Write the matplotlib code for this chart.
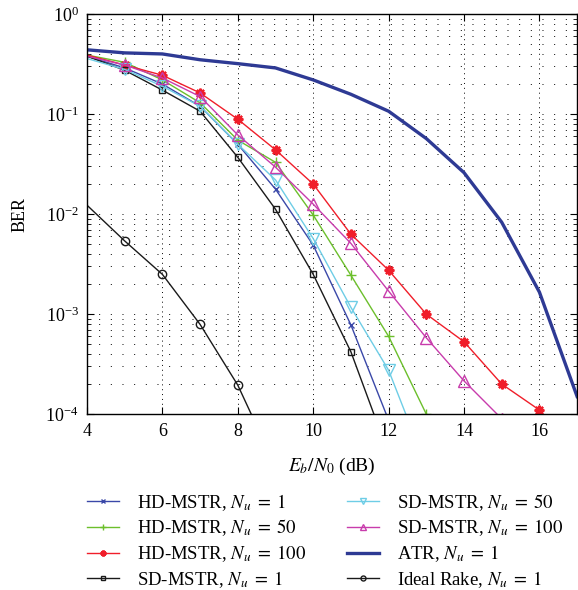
import numpy as np
import matplotlib
matplotlib.use("Agg")
import matplotlib.pyplot as plt
from matplotlib.ticker import LogLocator, NullFormatter

plt.rcParams["font.family"] = ["Liberation Serif", "DejaVu Serif"]
plt.rcParams["mathtext.fontset"] = "stix"

snr = [4, 5, 6, 7, 8, 9, 10, 11, 12, 13, 14, 15, 16, 17]

hd_1 = [0.38, 0.29, 0.20, 0.12, 0.05, 0.0178, 0.0049, 7.8e-4, 8.7e-5]
hd_50 = [0.39, 0.33, 0.22, 0.13, 0.055, 0.033, 0.0098, 0.00245, 6e-4, 1.0e-4]
hd_100 = [0.39, 0.31, 0.245, 0.163, 0.089, 0.044, 0.020, 0.0063, 0.00275,
          1.0e-3, 5.3e-4, 2.0e-4, 1.1e-4]
sd_1 = [0.38, 0.275, 0.174, 0.107, 0.037, 0.0112, 0.0025, 4.2e-4, 4e-5]
sd_50 = [0.36, 0.28, 0.19, 0.12, 0.05, 0.022, 0.0057, 0.00117, 2.75e-4, 3e-5]
sd_100 = [0.38, 0.31, 0.23, 0.15, 0.062, 0.0295, 0.0126, 0.0051, 0.0017,
          5.8e-4, 2.15e-4, 9e-5]
atr_1 = [0.44, 0.41, 0.40, 0.35, 0.32, 0.29, 0.22, 0.158, 0.107, 0.057,
         0.026, 0.0083, 0.00166, 1.5e-4]
rake_snr = [3, 4, 5, 6, 7, 8, 9]
rake_1 = [0.026, 0.0123, 0.0054, 0.0025, 7.9e-4, 1.95e-4, 3e-5]

fig = plt.figure(figsize=(5.78, 5.90), dpi=100)
ax = fig.add_axes([0.1505, 0.298, 0.848, 0.678])

mk = dict(markevery=slice(1, None), lw=1.0)
h1, = ax.semilogy(snr[:len(hd_1)], hd_1, color="#3a48a8", marker="x", ms=5,
                  label=r"HD-MSTR, $N_u\;=\;1$", **mk)
h2, = ax.semilogy(snr[:len(hd_50)], hd_50, color="#6cbf2c", marker="+", ms=7,
                  label=r"HD-MSTR, $N_u\;=\;50$", **mk)
h3, = ax.semilogy(snr[:len(hd_100)], hd_100, color="#f01e2a", marker=(8, 2, 0),
                  ms=7, mew=1.6, label=r"HD-MSTR, $N_u\;=\;100$", **mk)
h4, = ax.semilogy(snr[:len(sd_1)], sd_1, color="#1a1a1a", marker="s", ms=5,
                  mfc="none", label=r"SD-MSTR, $N_u\;=\;1$", **mk)
h5, = ax.semilogy(snr[:len(sd_50)], sd_50, color="#6ecde6", marker="v", ms=8,
                  mfc="none", label=r"SD-MSTR, $N_u\;=\;50$", **mk)
h6, = ax.semilogy(snr[:len(sd_100)], sd_100, color="#c83cac", marker="^", ms=8,
                  mfc="none", label=r"SD-MSTR, $N_u\;=\;100$", **mk)
h7, = ax.semilogy(snr, atr_1, color="#2e3a94", lw=2.4,
                  label=r"ATR, $N_u\;=\;1$")
h8, = ax.semilogy(rake_snr, rake_1, color="#1a1a1a", marker="o", ms=6,
                  mfc="none", lw=1.0, markevery=slice(2, 6),
                  label=r"Ideal Rake, $N_u\;=\;1$")

ax.set_xlim(4, 17)
ax.set_ylim(1e-4, 1)
ax.set_xticks([4, 6, 8, 10, 12, 14, 16])
ax.yaxis.set_major_locator(LogLocator(base=10, numticks=10))
ax.yaxis.set_minor_locator(LogLocator(base=10, subs=np.arange(2, 10), numticks=10))
ax.yaxis.set_minor_formatter(NullFormatter())

ax.tick_params(which="both", direction="in", top=True, right=True, labelsize=13)
ax.tick_params(which="major", length=5, pad=6)
ax.tick_params(which="minor", length=3)
for s in ax.spines.values():
    s.set_linewidth(1.0)

ax.grid(True, which="major", axis="x", color="k", lw=0.7, ls=(0, (1, 4)))
ax.grid(True, which="both", axis="y", color="k", lw=0.7, ls=(0, (1, 11)))

ax.set_xlabel(r"$E_b/N_0$ (dB)", fontsize=14, labelpad=12)
ax.set_ylabel("BER", fontsize=13, labelpad=12)

leg = fig.legend(handles=[h1, h2, h3, h4, h5, h6, h7, h8], ncol=2, frameon=False,
                 loc="upper left", bbox_to_anchor=(87 / 578, 1 - 492 / 590),
                 borderaxespad=0, borderpad=0, fontsize=13.5,
                 handlelength=1.7, handletextpad=0.95, columnspacing=2.2,
                 labelspacing=0.26, markerscale=0.6)

fig.savefig("out.png", dpi=100)
